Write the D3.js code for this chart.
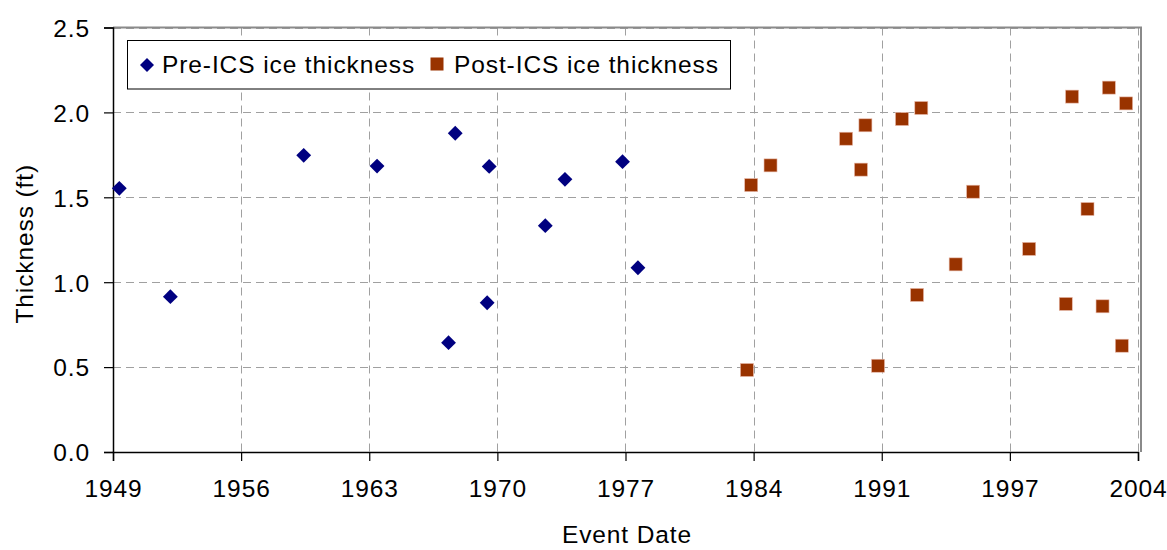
<!DOCTYPE html>
<html>
<head>
<meta charset="utf-8">
<script src="https://cdn.jsdelivr.net/npm/d3@7"></script>
<style>
  html, body { margin: 0; padding: 0; background: #fff; }
  svg { display: block; font-family: "Liberation Sans", Arial, sans-serif; }
</style>
</head>
<body>
<svg id="chart" width="1167" height="550"></svg>
<script>
// ---- Data (decimal year, thickness in ft) ----
const preYears  = [1949.99, 1952.74, 1959.92, 1963.87, 1967.72, 1968.08, 1969.91, 1969.80, 1972.93, 1973.99, 1977.09, 1977.92];
const preThick  = [1.553, 0.915, 1.747, 1.684, 0.644, 1.877, 1.682, 0.879, 1.333, 1.606, 1.710, 1.085];

const postYears = [1983.79, 1984.02, 1985.06, 1989.13, 1989.93, 1990.17, 1990.85, 1992.14, 1992.95, 1993.18, 1995.03, 1995.97, 1998.99, 2000.96, 2001.30, 2002.13, 2002.94, 2003.28, 2003.98, 2004.21];
const postThick = [0.483, 1.572, 1.688, 1.845, 1.663, 1.924, 0.508, 1.961, 0.925, 2.026, 1.105, 1.533, 1.196, 0.872, 2.093, 1.431, 0.858, 2.146, 0.626, 2.053];

const seriesNames = ["Pre-ICS ice thickness", "Post-ICS ice thickness"];
const xTickLabels = ["1949", "1956", "1963", "1970", "1977", "1984", "1991", "1997", "2004"];
const yTickValues = [0, 0.5, 1.0, 1.5, 2.0, 2.5];
const xAxisStart = 1949.65, xAxisStep = 6.9;   // date axis: equal major units
const xTitle = "Event Date";
const yTitle = "Thickness (ft)";

// ---- Layout ----
const svg = d3.select("#chart");
const pLeft = 113, pTop = 27.5, pBottom = 452, tickRight = 1138, frameRight = 1141;
const xTickValues = xTickLabels.map((_, i) => xAxisStart + i * xAxisStep);

const x = d3.scaleLinear()
  .domain([xTickValues[0], xTickValues[xTickValues.length - 1]])
  .range([pLeft, tickRight]);
const y = d3.scaleLinear().domain([0, 2.5]).range([pBottom, pTop]);

const fontSize = "24.5px";
const letterSp = "0.9px";

// gridlines
const grid = svg.append("g");
grid.selectAll(".hg").data(yTickValues.filter(v => v > 0)).enter().append("line")
  .attr("x1", pLeft).attr("x2", frameRight)
  .attr("y1", d => Math.round(y(d)) + 0.5).attr("y2", d => Math.round(y(d)) + 0.5)
  .attr("stroke", "#a0a0a0").attr("stroke-width", 1).attr("stroke-dasharray", "8,5");
grid.selectAll(".vg").data(xTickValues.slice(1)).enter().append("line")
  .attr("y1", pTop).attr("y2", pBottom)
  .attr("x1", d => Math.round(x(d)) + 0.5).attr("x2", d => Math.round(x(d)) + 0.5)
  .attr("stroke", "#a0a0a0").attr("stroke-width", 1).attr("stroke-dasharray", "8,5");

// plot frame (top and right)
svg.append("path")
  .attr("d", `M${pLeft},${pTop} H${frameRight} V${pBottom}`)
  .attr("fill", "none").attr("stroke", "#8a8a8a").attr("stroke-width", 2);

// axes
const xAxis = d3.axisBottom(x).tickValues(xTickValues)
  .tickFormat((d, i) => xTickLabels[i]).tickSizeOuter(0).tickSize(9).tickPadding(19);
const gx = svg.append("g").attr("transform", `translate(0,${pBottom})`).call(xAxis);

const yAxis = d3.axisLeft(y).tickValues(yTickValues)
  .tickFormat(d3.format(".1f")).tickSizeOuter(0).tickSize(9).tickPadding(14);
const gy = svg.append("g").attr("transform", `translate(${pLeft},0)`).call(yAxis);

[gx, gy].forEach(g => {
  g.select(".domain").attr("stroke", "#000").attr("stroke-width", 1.5);
  g.selectAll(".tick line").attr("stroke", "#000").attr("stroke-width", 1.2);
  g.selectAll(".tick text").attr("fill", "#000")
    .style("font-size", fontSize).style("letter-spacing", letterSp)
    .style("font-family", "'Liberation Sans', Arial, sans-serif");
});
gy.selectAll(".tick text").attr("dy", "0.36em");

// axis titles
svg.append("text").attr("x", (pLeft + frameRight) / 2).attr("y", 543)
  .attr("text-anchor", "middle").style("font-size", fontSize).style("letter-spacing", letterSp)
  .text(xTitle);
svg.append("text").attr("transform", `translate(33,${(pTop + pBottom) / 2 + 4}) rotate(-90)`)
  .attr("text-anchor", "middle").style("font-size", fontSize).style("letter-spacing", letterSp)
  .text(yTitle);

// markers
const pre = preYears.map((yr, i) => ({ x: yr, v: preThick[i] }));
const post = postYears.map((yr, i) => ({ x: yr, v: postThick[i] }));

const diamond = d3.symbol().type(d3.symbolSquare).size(110);
svg.append("g").selectAll("path").data(pre).enter().append("path")
  .attr("d", diamond())
  .attr("transform", d => `translate(${x(d.x)},${y(d.v)}) rotate(45)`)
  .attr("fill", "#000080");

const sq = 13;
svg.append("g").selectAll("rect").data(post).enter().append("rect")
  .attr("x", d => x(d.x) - sq / 2).attr("y", d => y(d.v) - sq / 2)
  .attr("width", sq).attr("height", sq)
  .attr("fill", "#993300").attr("stroke", "#e8b8a8").attr("stroke-width", 0.6);

// legend
const lg = svg.append("g");
lg.append("rect").attr("x", 127.5).attr("y", 40.5).attr("width", 603).attr("height", 48.5)
  .attr("fill", "#fff").attr("stroke", "#000").attr("stroke-width", 1);
lg.append("path").attr("d", d3.symbol().type(d3.symbolSquare).size(98)())
  .attr("transform", "translate(147,65) rotate(45)").attr("fill", "#000080");
lg.append("text").attr("x", 162).attr("y", 73).style("font-size", fontSize)
  .style("letter-spacing", letterSp).text(seriesNames[0]);
lg.append("rect").attr("x", 430.5).attr("y", 57.5).attr("width", 13).attr("height", 13)
  .attr("fill", "#993300");
lg.append("text").attr("x", 454).attr("y", 73).style("font-size", fontSize)
  .style("letter-spacing", letterSp).text(seriesNames[1]);
</script>
</body>
</html>
